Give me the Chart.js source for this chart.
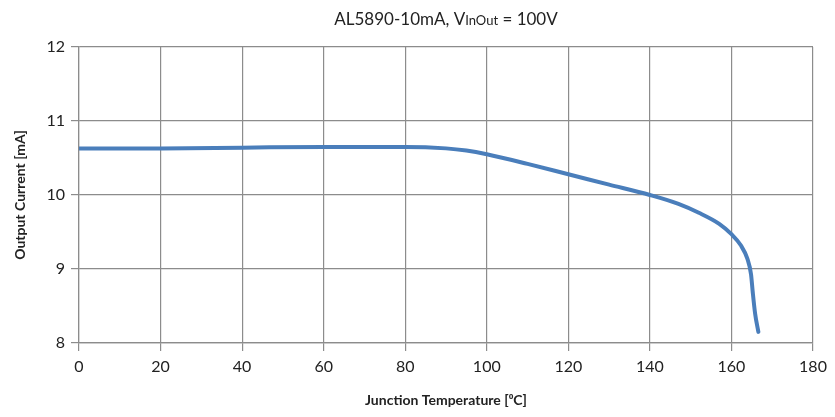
<!DOCTYPE html>
<html>
<head>
<meta charset="utf-8">
<script src="https://cdn.jsdelivr.net/npm/chart.js@4"></script>
<style>
    html, body { margin: 0; padding: 0; background: #fff; }
    #wrap { width: 835px; height: 417px; position: relative; }
</style>
</head>
<body>
<div id="wrap"><canvas id="chart"></canvas></div>
<script>
/* data */
const tempC = [0, 20, 40, 60, 80, 90, 95, 100, 110, 120, 130, 140, 147, 152, 157, 160, 162.3, 163.9, 164.8, 165.2, 165.8, 166.6];
const currentMA = [10.63, 10.63, 10.64, 10.65, 10.65, 10.63, 10.60, 10.55, 10.42, 10.28, 10.14, 10.0, 9.88, 9.76, 9.61, 9.47, 9.32, 9.14, 8.93, 8.70, 8.40, 8.15];
const xTicks = [0, 20, 40, 60, 80, 100, 120, 140, 160, 180];
const yTicks = [8, 9, 10, 11, 12];

const FONT = "Lato, 'Open Sans', sans-serif";
const GRID = "#8c8c8c";

/* title with the small "InOut" part */
const titlePlugin = {
    id: "subTitle",
    afterDraw: (chart) => {
        const ctx = chart.ctx;
        const parts = [
            { t: "AL5890-10mA, V", size: 17 },
            { t: "InOut", size: 13 },
            { t: " = 100V", size: 17 }
        ];
        ctx.save();
        ctx.fillStyle = "#222";
        ctx.textBaseline = "alphabetic";
        let total = 0;
        parts.forEach(p => {
            ctx.font = p.size + "px " + FONT;
            p.w = ctx.measureText(p.t).width;
            total += p.w;
        });
        let x = (chart.chartArea.left + chart.chartArea.right) / 2 - total / 2;
        parts.forEach(p => {
            ctx.font = p.size + "px " + FONT;
            ctx.fillText(p.t, x, 25);
            x += p.w;
        });
        ctx.restore();
    }
};

new Chart(document.getElementById("chart"), {
    type: "scatter",
    data: {
        datasets: [{
            data: tempC.map((t, i) => ({ x: t, y: currentMA[i] })),
            showLine: true,
            borderColor: "#4a7ebb",
            borderWidth: 4,
            pointRadius: 0,
            cubicInterpolationMode: "monotone",
            borderCapStyle: "round"
        }]
    },
    options: {
        responsive: true,
        maintainAspectRatio: false,
        animation: false,
        layout: { padding: { left: 0, right: 22, top: 47, bottom: 0 } },
        plugins: {
            legend: { display: false },
            title: { display: false },
            tooltip: { enabled: false }
        },
        scales: {
            x: {
                type: "linear",
                min: 0,
                max: 180,
                afterBuildTicks: (s) => { s.ticks = xTicks.map(v => ({ value: v })); },
                afterFit: (s) => { s.height = 74; },
                grid: { color: GRID, lineWidth: 1.2, tickLength: 8, drawTicks: true },
                border: { color: GRID, width: 1.2 },
                ticks: { color: "#222", font: { family: FONT, size: 16 }, padding: 6 },
                title: {
                    display: true,
                    text: "Junction Temperature [\u2070C]",
                    color: "#222",
                    font: { family: FONT, size: 14, weight: "bold" },
                    padding: { top: 6, bottom: 8 }
                }
            },
            y: {
                min: 8,
                max: 12,
                afterBuildTicks: (s) => { s.ticks = yTicks.map(v => ({ value: v })); },
                afterFit: (s) => { s.width = 79; },
                grid: { color: GRID, lineWidth: 1.2, tickLength: 8 },
                border: { color: GRID, width: 1.2 },
                ticks: { color: "#222", font: { family: FONT, size: 16 }, padding: 6 },
                title: {
                    display: true,
                    text: "Output Current [mA]",
                    color: "#222",
                    font: { family: FONT, size: 14, weight: "bold" },
                    padding: { top: 12, bottom: 4 }
                }
            }
        }
    },
    plugins: [titlePlugin]
});
</script>
</body>
</html>
